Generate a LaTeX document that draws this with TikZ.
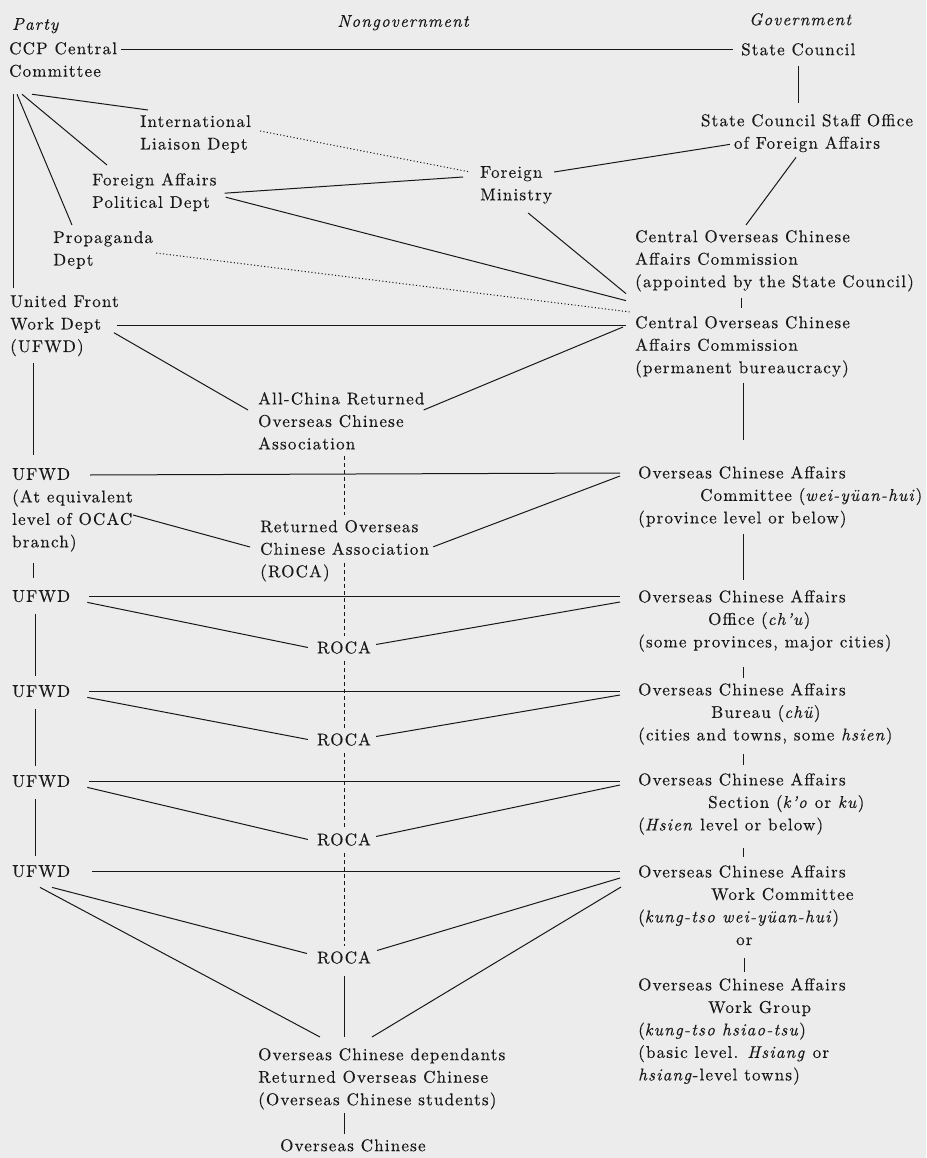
\documentclass[tikz,border=0pt]{standalone}
\usepackage{fontspec}
\setmainfont{lmroman10-regular.otf}[
	BoldFont=lmroman10-bold.otf,
	ItalicFont=lmroman10-italic.otf,
	BoldItalicFont=lmroman10-bolditalic.otf,
	LetterSpace=7,
	FakeBold=0.3]
\usepackage{tikz}
\definecolor{paper}{RGB}{236,236,237}
\definecolor{ink}{RGB}{24,24,24}
\tikzset{
	% Two text styles for the chart: left-aligned blocks and centred ones
	text node/.style={anchor=north west,align=left,inner sep=0pt,text=ink},
	centred node/.style={anchor=north,align=center,inner sep=0pt,text=ink},
	% Three kinds of link: solid, dotted and dashed
	solid link/.style={draw=ink,line width=1pt},
	dotted link/.style={solid link,dash pattern=on 1.1pt off 2.3pt},
	dashed link/.style={solid link,line width=0.9pt,dash pattern=on 4pt off 3pt}
}

\begin{document}
\begin{tikzpicture}[x=1pt,y=-1pt,font=\fontsize{17}{22.5}\selectfont]
	% macros for the repeated UFWD and ROCA boxes
	\newcommand{\ufwdbox}[2]{\node[text node](#1)at(12,#2){UFWD};}
	\newcommand{\rocabox}[2]{\node[centred node](#1)at(344,#2){ROCA};}
	\fill[paper] (0,0) rectangle (926,1158);
	\useasboundingbox (0,0) rectangle (926,1158);
	
	% column heads
	\node[text node] (party) at (12,18) {\textit{Party}};
	\node[centred node] (nongov) at (404,15) {\textit{Nongovernment}};
	\node[centred node] (gov) at (801,13) {\textit{Government}};
	
	% central level
	\node[text node] (ccp) at (9,42) {CCP Central\\Committee};
	\node[text node] (sc) at (741,43) {State Council};
	\node[centred node] (scso) at (807,114) {State Council Staff Office\\of Foreign Affairs};
	\node[text node] (ild) at (140,115) {International\\Liaison Dept};
	\node[text node] (fapd) at (92,173) {Foreign Affairs\\Political Dept};
	\node[text node] (fm) at (480,166) {Foreign\\Ministry};
	\node[text node] (prop) at (53,231) {Propaganda\\Dept};
	\node[text node] (cocA) at (635,230) {Central Overseas Chinese\\Affairs Commission\\(appointed by the State Council)};
	\node[text node] (ufwd) at (10,295) {United Front\\Work Dept\\(UFWD)};
	\node[text node] (cocB) at (635,316) {Central Overseas Chinese\\Affairs Commission\\(permanent bureaucracy)};
	\node[text node] (acroca) at (258,392) {All-China Returned\\Overseas Chinese\\Association};
	
	% province level and below
	\node[text node] (ufwdA) at (12,468) {UFWD\\(At equivalent\\level of OCAC\\branch)};
	\node[text node] (ocaCom) at (638,466) {Overseas Chinese Affairs\\\hspace*{62pt}Committee (\textit{wei-yüan-hui})\\(province level or below)};
	\node[text node] (roca) at (260,520) {Returned Overseas\\Chinese Association\\(ROCA)};
	\ufwdbox{ufwdB}{590}
	\rocabox{rocaB}{641}
	\node[text node] (ocaOff) at (638,590) {Overseas Chinese Affairs\\\hspace*{70pt}Office (\textit{ch’u})\\(some provinces, major cities)};
	\ufwdbox{ufwdC}{685}
	\rocabox{rocaC}{733}
	\node[text node] (ocaBur) at (638,683) {Overseas Chinese Affairs\\\hspace*{73pt}Bureau (\textit{chü})\\(cities and towns, some \textit{hsien})};
	\ufwdbox{ufwdD}{775}
	\rocabox{rocaD}{833}
	\node[text node] (ocaSec) at (638,773) {Overseas Chinese Affairs\\\hspace*{70pt}Section (\textit{k’o} or \textit{ku})\\(\textit{Hsien} level or below)};
	\ufwdbox{ufwdE}{865}
	\rocabox{rocaE}{951}
	\node[text node] (ocaWC) at (638,865) {Overseas Chinese Affairs\\\hspace*{73pt}Work Committee\\(\textit{kung-tso wei-yüan-hui})};
	\node[anchor=base west,inner sep=0pt,text=ink] (orword) at (736,945) {or};
	\node[text node] (ocaWG) at (638,978) {Overseas Chinese Affairs\\\hspace*{70pt}Work Group\\(\textit{kung-tso hsiao-tsu})\\(basic level. \textit{Hsiang} or\\\textit{hsiang}-level towns)};
	\node[text node] (dep) at (258,1048) {Overseas Chinese dependants\\Returned Overseas Chinese\\(Overseas Chinese students)};
	\node[text node] (oc) at (280,1139) {Overseas Chinese};
	
	% state council side
	\draw[solid link] ([xshift=4pt]ccp.north east |- sc.west) -- ([xshift=-8pt]sc.west);
	\draw[solid link,shorten <=10pt,shorten >=11pt] (sc.south) -- (sc.south |- scso.north);
	\draw[solid link] ([shift={(29,-8)}]scso.south west) -- ([shift={(2,6)}]fm.north east);
	\draw[solid link] ([shift={(-11,5)}]scso.south) -- ([shift={(111,-5)}]cocA.north west);
	% party departments fanning out of the committee
	\draw[solid link] ([shift={(23,17)}]ccp.south west) -- ([shift={(8,-5)}]ild.north west);
	\draw[solid link] ([shift={(13,17)}]ccp.south west) -- ([shift={(15,-8)}]fapd.north west);
	\draw[solid link] ([shift={(8,17)}]ccp.south west) -- ([shift={(19,-6)}]prop.north west);
	\draw[solid link] ([shift={(4,17)}]ccp.south west) -- ([shift={(3,-7)}]ufwd.north west);
	% ministry and commission
	\draw[dotted link] ([shift={(9,-3)}]ild.east) -- ([shift={(-10,6)}]fm.north west);
	\draw[solid link] ([shift={(8,1)}]fapd.east) -- ([shift={(-17,11)}]fm.north west);
	\draw[solid link] ([shift={(9,5)}]fapd.east) -- ([shift={(-9,9)}]cocA.south west);
	\draw[solid link] ([shift={(12,9)}]fm.south) -- ([shift={(-9,2)}]cocA.south west);
	\draw[dotted link] ([shift={(3,3)}]prop.east) -- ([shift={(-5,-4)}]cocB.north west);
	\draw[solid link,shorten <=6pt,shorten >=8pt] ([xshift=106pt]cocA.south west) -- ([xshift=106pt]cocB.north west);
	% united front work dept
	\draw[solid link] ([xshift=-2pt]ufwd.east) -- ([xshift=-9pt]cocB.north west |- ufwd.east);
	\draw[solid link] ([shift={(-5,7)}]ufwd.east) -- ([shift={(-10,18)}]acroca.north west);
	\draw[solid link] ([shift={(-1,18)}]acroca.north east) -- ([shift={(-12,11)}]cocB.north west);
	\draw[solid link] ([shift={(23,7)}]ufwd.south west) -- ([shift={(21,-13)}]ufwdA.north west);
	% equivalent level of OCAC branch
	\draw[solid link,shorten <=5pt,shorten >=26pt] ([xshift=108pt]cocB.south west) -- ([xshift=108pt]cocB.south west |- ocaCom.north);
	\draw[solid link] ([shift={(78,7)}]ufwdA.north west) -- ([shift={(-18,7)}]ocaCom.north west);
	\draw[solid link] ([shift={(121,47)}]ufwdA.north west) -- ([shift={(-10,27)}]roca.north west);
	\draw[solid link] ([shift={(4,-4)}]roca.east) -- ([shift={(-18,10)}]ocaCom.north west);
	\draw[solid link,shorten <=11pt,shorten >=12pt] ([xshift=21pt]ufwdA.south west) -- ([xshift=21pt]ufwdB.north west);
	% dashed line down the associations
	\draw[dashed link,shorten <=6pt,shorten >=5pt] (acroca.south -| rocaB.north) -- (roca.north -| rocaB.north);
	\draw[dashed link] (roca.center -| rocaB.north) ++(0,12) -- ([yshift=5pt]rocaB.north);
	\foreach \upper/\lower in {rocaB/rocaC,rocaC/rocaD,rocaD/rocaE}
		\draw[dashed link,shorten <=7pt,shorten >=5pt] (\upper.south) -- (\lower.north);
	% lower levels
	\foreach \party/\assoc/\office in {ufwdB/rocaB/ocaOff,ufwdC/rocaC/ocaBur,ufwdD/rocaD/ocaSec}{
		\draw[solid link] ([xshift=19pt]\party.east) -- ([xshift=-18pt]\office.north west |- \party.east);
		\draw[solid link] ([xshift=17pt]\party.south east) -- ([xshift=-9pt]\assoc.west);
		\draw[solid link] ([shift={(5,-3)}]\assoc.east) -- ([shift={(-18,12)}]\office.north west);
	}
	\foreach \upper/\lower in {ufwdB/ufwdC,ufwdC/ufwdD,ufwdD/ufwdE}
		\draw[solid link,shorten <=12pt,shorten >=9pt] ([xshift=23pt]\upper.south west) -- ([xshift=23pt]\lower.north west);
	\foreach \upper/\lower/\gapa/\gapb in {ocaCom/ocaOff/6/10,ocaOff/ocaBur/15/5,ocaBur/ocaSec/9/8,ocaSec/ocaWC/13/8}
		\draw[solid link,shorten <=\gapa pt,shorten >=\gapb pt] ([xshift=105pt]\upper.south west) -- ([xshift=105pt]\lower.north west);
	\draw[solid link,shorten <=13pt,shorten >=6pt] (orword.south) -- (orword.south |- ocaWG.north);
	% basic level
	\draw[solid link] ([xshift=22pt]ufwdE.east) -- ([xshift=-18pt]ocaWC.north west |- ufwdE.east);
	\draw[solid link] ([shift={(28,10)}]ufwdE.south west) -- ([shift={(62,-11)}]dep.north west);
	\draw[solid link] ([shift={(40,10)}]ufwdE.south west) -- ([shift={(-10,-4)}]rocaE.west);
	\draw[solid link] ([shift={(6,-7)}]rocaE.east) -- ([shift={(-18,13)}]ocaWC.north west);
	\draw[solid link] ([shift={(114,-11)}]dep.north west) -- ([shift={(-17,22)}]ocaWC.north west);
	\draw[solid link,shorten <=12pt,shorten >=11pt] (rocaE.south) -- (rocaE.south |- dep.north);
	\draw[solid link,shorten <=3pt,shorten >=5pt] (rocaE.south |- dep.south) -- (rocaE.south |- oc.north);
\end{tikzpicture}
\end{document}
